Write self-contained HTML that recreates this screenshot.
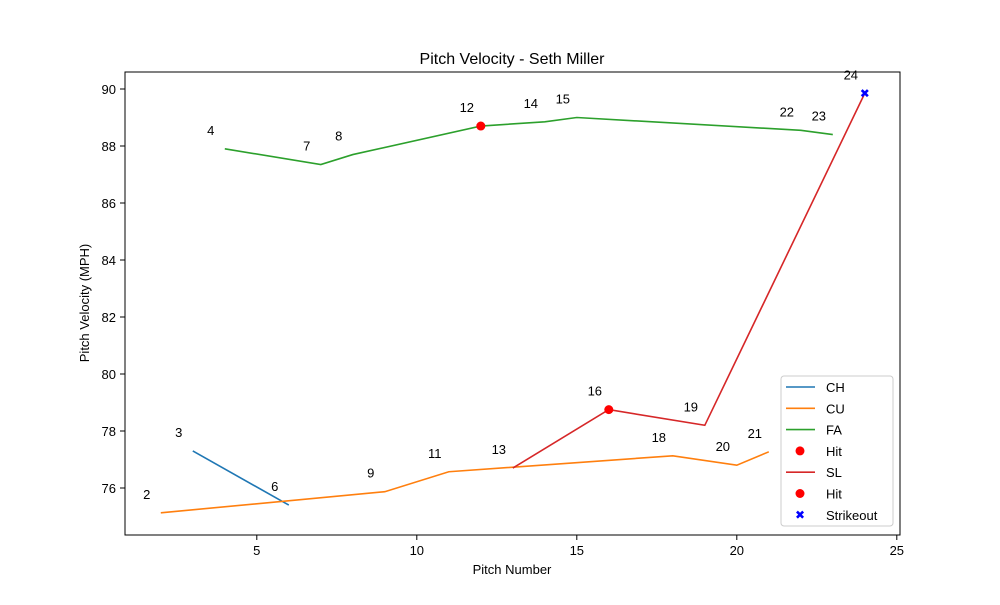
<!DOCTYPE html>
<html><head><meta charset="utf-8"><style>
body{margin:0;background:#fff}
svg text{font-family:"Liberation Sans","DejaVu Sans",sans-serif}
</style></head><body>
<svg id="chart" width="1000" height="600" xmlns="http://www.w3.org/2000/svg">
<rect width="1000" height="600" fill="#fff"/>
<text x="512" y="64" font-size="16" text-anchor="middle">Pitch Velocity - Seth Miller</text>
<text x="512" y="574" font-size="13" text-anchor="middle">Pitch Number</text>
<text x="0" y="0" font-size="13" text-anchor="middle" transform="translate(89,303) rotate(-90)">Pitch Velocity (MPH)</text>
<g id="plot"></g>
</svg>
<script>
const xTicks=[5,10,15,20,25];
const yTicks=[76,78,80,82,84,86,88,90];
const chX=[3,6]; const chY=[77.3,75.4];
const cuX=[2,9,11,18,20,21]; const cuY=[75.13,75.87,76.57,77.13,76.8,77.27];
const faX=[4,7,8,12,14,15,22,23]; const faY=[87.9,87.35,87.7,88.7,88.85,89.0,88.55,88.4];
const slX=[13,16,19,24]; const slY=[76.7,78.75,78.2,89.85];
const hitX=[12,16]; const hitY=[88.7,78.75];
const soX=[24]; const soY=[89.85];
const labelNums=[2,3,4,6,7,8,9,11,12,13,14,15,16,18,19,20,21,22,23,24];
const labelVals=[75.13,77.3,87.9,75.4,87.35,87.7,75.87,76.57,88.7,76.7,88.85,89.0,78.75,77.13,78.2,76.8,77.27,88.55,88.4,89.85];
const NS='http://www.w3.org/2000/svg';
const X=v=>96.8+32*v;
const Y=v=>488-(v-76)*28.5;
const g=document.getElementById('plot');
function el(t,a){const e=document.createElementNS(NS,t);for(const k in a)e.setAttribute(k,a[k]);g.appendChild(e);return e;}
const fr=el('rect',{x:125,y:72,width:775,height:463,fill:'none',stroke:'#000','stroke-width':1});


xTicks.forEach(t=>{
 const l=el('line',{x1:X(t),x2:X(t),y1:535,y2:540,stroke:'#000'});
 
 
 const tx=el('text',{x:X(t),y:555,'font-size':13,'text-anchor':'middle'});tx.textContent=t;
 
 
});
yTicks.forEach(t=>{
 const l=el('line',{x1:120,x2:125,y1:Y(t),y2:Y(t),stroke:'#000'});
 
 
 const tx=el('text',{x:116,y:Y(t)+5,'font-size':13,'text-anchor':'end'});tx.textContent=t;
 
 
});
function line(xs,ys,c,name){
 const p=el('polyline',{points:xs.map((x,i)=>X(x)+','+Y(ys[i])).join(' '),fill:'none',stroke:c,'stroke-width':1.6});
 
 
}
line(chX,chY,'#1f77b4','ch-line');
line(cuX,cuY,'#ff7f0e','cu-line');
line(faX,faY,'#2ca02c','fa-line');
line(slX,slY,'#d62728','sl-line');
hitX.forEach((x,i)=>{
 const c=el('circle',{cx:X(x),cy:Y(hitY[i]),r:4.5,fill:'#ff0000'});
 
 
});
soX.forEach((x,i)=>{
 const t=el('text',{x:X(x),y:Y(soY[i])+4,'font-size':12,'font-weight':'bold','text-anchor':'middle',fill:'#0000ff'});t.textContent='✖';
 
 
});
labelNums.forEach((n,i)=>{
 const t=el('text',{x:X(n)-14,y:Y(labelVals[i])-14,'font-size':13,'text-anchor':'middle'});t.textContent=n;
 
 
});
const lb=el('rect',{x:781,y:376,width:112,height:150,rx:3,fill:'#fff',stroke:'#ccc'});


const items=[['CH','line','#1f77b4'],['CU','line','#ff7f0e'],['FA','line','#2ca02c'],['Hit','dot','#ff0000'],['SL','line','#d62728'],['Hit','dot','#ff0000'],['Strikeout','x','#0000ff']];
items.forEach((it,i)=>{
 const y=387+i*21.3;
 let m;
 if(it[1]==='line') m=el('line',{x1:786,x2:815,y1:y,y2:y,stroke:it[2],'stroke-width':1.6});
 else if(it[1]==='dot') m=el('circle',{cx:800,cy:y,r:4.5,fill:it[2]});
 else {m=el('text',{x:800,y:y+4,'font-size':12,'font-weight':'bold','text-anchor':'middle',fill:it[2]});m.textContent='✖';}
 
 
 const t=el('text',{x:826,y:y+5,'font-size':13});t.textContent=it[0];
 
 
});
</script>
</body></html>
